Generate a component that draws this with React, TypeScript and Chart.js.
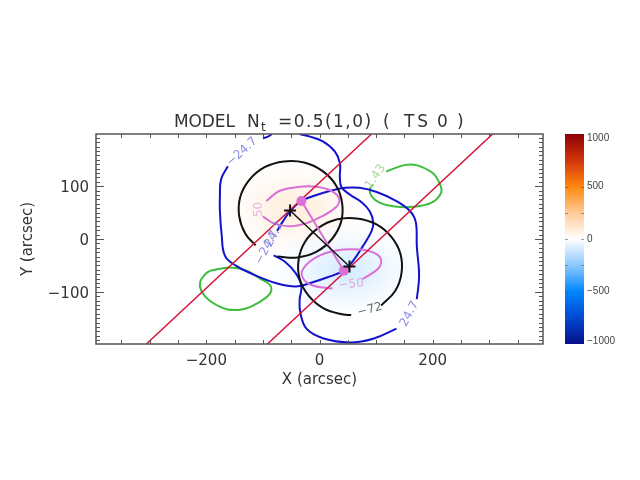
import React, { useEffect, useRef } from "react";
import { Chart, registerables } from "chart.js";

Chart.register(...registerables);

// ---------------- data (arcsec) ----------------
const xLimits = [-395, 395];
const yLimits = [-199, 199];
const xTickValues = [-200, 0, 200];
const yTickValues = [-100, 0, 100];
const xMinorStep = 50;
const yMinorStep = 100 / 12;

const colorbarTickValues = [1000, 500, 0, -500, -1000];
const colorbarLimits = [-1000, 1000];
const colormapLevels = [-1000, -750, -500, -250, 0, 250, 500, 750, 1000];

const crossX = [-52, 53];
const crossY = [54, -52];
const dotX = [-32, 43];
const dotY = [72, -60];

const blobX = [-45, 48];
const blobY = [58, -60];
const blobPeak = [80, -85];
const blobRadiusX = [135, 135];
const blobRadiusY = [90, 90];

const redLineA = [[-306, -199], [92, 199]];
const redLineB = [[-92, -199], [306, 199]];

const blackCircle1 = [
  [-75, -33], [-39, -35], [-5, -24], [22, 0], [38, 32], [40, 68], [29, 102], [5, 129],
  [-27, 145], [-63, 147], [-97, 136], [-124, 112], [-140, 80], [-142, 44], [-131, 10], [-113, -12],
];
const blackCircle2 = [
  [109, -126], [134, -98], [145, -64], [143, -28], [127, 4], [100, 28], [66, 39], [30, 37],
  [-2, 21], [-26, -6], [-37, -40], [-35, -76], [-19, -108], [8, -132], [42, -143], [56, -144],
];

const pinkEllipse1 = [
  [-94, 72], [-71, 91], [-35, 99], [0, 98], [26, 88], [35, 74], [29, 60], [6, 44],
  [-23, 30], [-53, 24], [-82, 30], [-100, 43],
];
const pinkEllipse2 = [
  [76, -76], [103, -57], [109, -41], [100, -28], [71, -20], [29, -22], [-6, -35],
  [-29, -57], [-29, -75], [-12, -88], [23, -94],
];

const greenLoop1 = [
  [118, 128], [150, 140], [171, 140], [200, 125], [212, 106], [215, 88], [198, 69],
  [165, 61], [130, 62], [106, 69], [92, 81], [89, 94], [95, 103],
];
const greenLoop2 = [
  [-194, -60], [-158, -54], [-129, -60], [-105, -75], [-87, -88], [-88, -104], [-112, -123],
  [-135, -133], [-164, -133], [-194, -117], [-209, -98], [-211, -82], [-203, -68], [-194, -60],
];

const blueOuterA = [
  [-75, 15], [-65, 33], [-51, 54], [-32, 72], [-12, 81], [18, 91], [45, 97], [71, 97],
  [101, 89], [136, 72], [159, 54], [170, 33], [172, -14], [176, -70], [172, -114],
];
const blueOuterB = [
  [136, -170], [95, -189], [54, -196], [6, -188], [-23, -170], [-34, -139], [-35, -114],
  [-32, -89], [-42, -65], [-60, -44], [-81, -31],
];
const blueInnerA = [[-84, 199], [-91, 194], [-100, 191]];
const blueInnerB = [
  [-162, 138], [-174, 113], [-176, 81], [-176, 52], [-173, 9], [-167, -32], [-147, -51],
  [-111, -70], [-76, -84], [-41, -90], [-12, -82], [13, -73], [43, -60], [59, -42],
  [77, -13], [92, 15], [95, 31], [89, 52], [75, 69], [54, 84], [39, 98], [36, 116],
  [36, 144], [27, 166], [6, 185], [-17, 194], [-35, 199],
];

const labelText = ["\u221224.7", "24.7", "\u221224.7", "24.7", "50", "\u221250", "\u221272", "1.43"];
const labelX = [-137, 159, -93, -80, -107, 56, 89, 99];
const labelY = [165, -142, -16, 8, 56, -86, -134, 118];

// ---------------- styles ----------------
const FONT = '"DejaVu Sans", "Liberation Sans", sans-serif';
const TEXT_COLOR = "#333333";
const FRAME_COLOR = "#555555";
const RED = "rgb(214,20,58)";
const BLUE = "rgb(18,18,205)";
const GREEN = "rgb(60,190,60)";
const PINK = "rgb(218,112,214)";
const BLACK = "#111111";
const labelAngle = [-42, -62, -62, -62, -90, -5, -15, -55];
const labelColor = [
  "rgb(140,140,230)", "rgb(140,140,230)", "rgb(140,140,230)", "rgb(140,140,230)",
  "rgb(238,176,228)", "rgb(222,170,222)", "rgb(110,110,110)", "rgb(175,215,155)",
];
const CMAP_RGB = [
  [8, 16, 135], [0, 72, 210], [0, 135, 255], [140, 200, 255], [255, 255, 255],
  [255, 202, 150], [255, 135, 15], [212, 52, 10], [140, 0, 6],
];

function cmap(v: number): number[] {
  const lv = colormapLevels;
  if (v <= lv[0]) return CMAP_RGB[0];
  if (v >= lv[lv.length - 1]) return CMAP_RGB[lv.length - 1];
  for (let i = 0; i < lv.length - 1; i++) {
    if (v >= lv[i] && v <= lv[i + 1]) {
      const t = (v - lv[i]) / (lv[i + 1] - lv[i]);
      const a = CMAP_RGB[i], b = CMAP_RGB[i + 1];
      return [0, 1, 2].map((k) => Math.round(a[k] + (b[k] - a[k]) * t));
    }
  }
  return [255, 255, 255];
}

const pts = (arr: number[][]) => arr.map(([x, y]) => ({ x, y }));
const fmt = (v: number) => (v < 0 ? "\u2212" + Math.abs(v) : String(v));

const heatPlugin = {
  id: "heat",
  beforeDatasetsDraw(chart: any) {
    const { ctx, chartArea: a, scales } = chart;
    const xs = scales.x, ys = scales.y;
    ctx.save();
    ctx.beginPath();
    ctx.rect(a.left, a.top, a.right - a.left, a.bottom - a.top);
    ctx.clip();
    for (let i = 0; i < blobX.length; i++) {
      const cx = xs.getPixelForValue(blobX[i]);
      const cy = ys.getPixelForValue(blobY[i]);
      const rx = Math.abs(xs.getPixelForValue(blobX[i] + blobRadiusX[i]) - cx);
      const ry = Math.abs(ys.getPixelForValue(blobY[i] + blobRadiusY[i]) - cy);
      const c = cmap(blobPeak[i] * 2);
      ctx.save();
      ctx.translate(cx, cy);
      ctx.scale(rx, ry);
      const g = ctx.createRadialGradient(0, 0, 0, 0, 0, 1);
      for (let s = 0; s <= 10; s++) {
        const t = s / 10;
        const al = s === 10 ? 0 : 0.5 * Math.exp(-3 * t * t);
        g.addColorStop(t, `rgba(${c[0]},${c[1]},${c[2]},${al.toFixed(3)})`);
      }
      ctx.fillStyle = g;
      ctx.beginPath();
      ctx.arc(0, 0, 1, 0, Math.PI * 2);
      ctx.fill();
      ctx.restore();
    }
    ctx.restore();
  },
};

const overlayPlugin = {
  id: "overlay",
  afterDatasetsDraw(chart: any) {
    const { ctx, chartArea: a, scales } = chart;
    const xs = scales.x, ys = scales.y;
    // contour labels
    ctx.save();
    ctx.font = `12px ${FONT}`;
    ctx.textAlign = "center";
    ctx.textBaseline = "middle";
    for (let i = 0; i < labelText.length; i++) {
      ctx.save();
      ctx.translate(xs.getPixelForValue(labelX[i]), ys.getPixelForValue(labelY[i]));
      ctx.rotate((labelAngle[i] * Math.PI) / 180);
      ctx.fillStyle = labelColor[i];
      ctx.fillText(labelText[i], 0, 0);
      ctx.restore();
    }
    ctx.restore();

    // frame and inward ticks
    ctx.save();
    ctx.strokeStyle = FRAME_COLOR;
    ctx.lineWidth = 1.5;
    ctx.strokeRect(a.left, a.top, a.right - a.left, a.bottom - a.top);
    ctx.lineWidth = 1;
    ctx.beginPath();
    for (let k = Math.ceil(xLimits[0] / xMinorStep); k * xMinorStep <= xLimits[1]; k++) {
      const px = Math.round(xs.getPixelForValue(k * xMinorStep)) + 0.5;
      const len = 4;
      ctx.moveTo(px, a.bottom);
      ctx.lineTo(px, a.bottom - len);
      ctx.moveTo(px, a.top);
      ctx.lineTo(px, a.top + len);
    }
    for (let k = Math.ceil(yLimits[0] / yMinorStep); k * yMinorStep <= yLimits[1]; k++) {
      const py = Math.round(ys.getPixelForValue(k * yMinorStep)) + 0.5;
      const len = k % 12 === 0 ? 8 : 4;
      ctx.moveTo(a.left, py);
      ctx.lineTo(a.left + len, py);
      ctx.moveTo(a.right, py);
      ctx.lineTo(a.right - len, py);
    }
    ctx.stroke();
    ctx.restore();
  },
  afterDraw(chart: any) {
    const { ctx, chartArea: a } = chart;
    // title
    ctx.save();
    ctx.fillStyle = TEXT_COLOR;
    ctx.textBaseline = "alphabetic";
    ctx.textAlign = "left";
    const fit = (text: string, x0: number, x1: number, y: number) => {
      (ctx as any).letterSpacing = "0px";
      const w = ctx.measureText(text).width;
      const n = text.length;
      const sp = n > 1 ? (x1 - x0 - w) / (n - 1) : 0;
      (ctx as any).letterSpacing = `${sp.toFixed(2)}px`;
      ctx.fillText(text, x0, y);
      (ctx as any).letterSpacing = "0px";
    };
    ctx.font = `17px ${FONT}`;
    fit("MODEL", 174, 235, 127);
    fit("N", 247, 260, 127);
    fit("=0.5(1,0)", 278, 371, 127);
    fit("(", 383, 389, 127);
    fit("TS", 404, 428, 127);
    fit("0", 437, 448, 127);
    fit(")", 457, 463, 127);
    ctx.font = `12px ${FONT}`;
    ctx.fillText("t", 261, 131);
    ctx.restore();

    // colorbar
    const cbL = 565, cbR = 584;
    const top = a.top, bot = a.bottom;
    const toPx = (v: number) =>
      bot - ((v - colorbarLimits[0]) / (colorbarLimits[1] - colorbarLimits[0])) * (bot - top);
    ctx.save();
    const g = ctx.createLinearGradient(0, bot, 0, top);
    colormapLevels.forEach((v) => {
      const c = cmap(v);
      g.addColorStop((v - colorbarLimits[0]) / (colorbarLimits[1] - colorbarLimits[0]), `rgb(${c[0]},${c[1]},${c[2]})`);
    });
    ctx.fillStyle = g;
    ctx.fillRect(cbL, top, cbR - cbL, bot - top);
    ctx.strokeStyle = "rgba(90,90,90,0.6)";
    ctx.lineWidth = 1;
    ctx.beginPath();
    for (let v = colorbarLimits[0] + 250; v < colorbarLimits[1]; v += 250) {
      const py = Math.round(toPx(v)) + 0.5;
      ctx.moveTo(cbR, py);
      ctx.lineTo(cbR - 3, py);
      ctx.moveTo(cbL, py);
      ctx.lineTo(cbL + 3, py);
    }
    ctx.stroke();
    ctx.fillStyle = "#444";
    ctx.font = `10px "Liberation Sans", sans-serif`;
    ctx.textAlign = "left";
    ctx.textBaseline = "middle";
    colorbarTickValues.forEach((v) => {
      const py = Math.min(Math.max(toPx(v), top + 4), bot - 3);
      ctx.fillText(fmt(v), cbR + 3, py);
    });
    ctx.restore();
  },
};

const line = (data: number[][], color: string, width: number, tension: number, order: number) => ({
  data: pts(data),
  showLine: true,
  borderColor: color,
  borderWidth: width,
  pointRadius: 0,
  tension,
  order,
  fill: false,
});

export default function App() {
  const ref = useRef<HTMLCanvasElement | null>(null);
  useEffect(() => {
    if (!ref.current) return;
    const tickFont = { family: FONT, size: 15 };
    const chart = new Chart(ref.current, {
      type: "scatter",
      data: {
        datasets: [
          {
            data: crossX.map((x, i) => ({ x, y: crossY[i] })),
            pointStyle: "cross",
            pointRadius: 6,
            pointBorderWidth: 2,
            borderColor: BLACK,
            backgroundColor: BLACK,
            showLine: false,
            order: 0,
          } as any,
          {
            data: dotX.map((x, i) => ({ x, y: dotY[i] })),
            pointStyle: "circle",
            pointRadius: 5,
            pointBorderWidth: 0,
            borderColor: PINK,
            backgroundColor: PINK,
            showLine: false,
            order: 1,
          } as any,
          line(crossX.map((x, i) => [x, crossY[i]]), BLACK, 1.5, 0, 2),
          line(dotX.map((x, i) => [x, dotY[i]]), PINK, 2, 0, 2),
          line(redLineA, RED, 1.5, 0, 3),
          line(redLineB, RED, 1.5, 0, 3),
          line(blackCircle1, BLACK, 2, 0.4, 4),
          line(blackCircle2, BLACK, 2, 0.4, 4),
          line(pinkEllipse1, PINK, 2, 0.4, 5),
          line(pinkEllipse2, PINK, 2, 0.4, 5),
          line(blueOuterA, BLUE, 2, 0.4, 6),
          line(blueOuterB, BLUE, 2, 0.4, 6),
          line(blueInnerA, BLUE, 2, 0.4, 6),
          line(blueInnerB, BLUE, 2, 0.4, 6),
          line(greenLoop1, GREEN, 2, 0.4, 7),
          line(greenLoop2, GREEN, 2, 0.4, 7),
        ],
      },
      options: {
        responsive: false,
        animation: false,
        events: [],
        layout: { padding: { left: 0, right: 97, top: 134, bottom: 0 } },
        plugins: { legend: { display: false }, tooltip: { enabled: false }, title: { display: false } },
        scales: {
          x: {
            type: "linear",
            min: xLimits[0],
            max: xLimits[1],
            position: "bottom",
            afterBuildTicks: (s: any) => {
              s.ticks = xTickValues.map((value) => ({ value }));
            },
            afterFit: (s: any) => {
              s.height = 136;
            },
            ticks: {
              callback: (v: any) => fmt(Number(v)),
              font: tickFont,
              color: TEXT_COLOR,
              padding: 8,
              maxRotation: 0,
              autoSkip: false,
            },
            grid: { display: false, drawTicks: false },
            border: { display: false },
            title: {
              display: true,
              text: "X (arcsec)",
              font: tickFont,
              color: TEXT_COLOR,
              padding: { top: 0, bottom: 91 },
            },
          },
          y: {
            type: "linear",
            min: yLimits[0],
            max: yLimits[1],
            position: "left",
            afterBuildTicks: (s: any) => {
              s.ticks = yTickValues.map((value) => ({ value }));
            },
            afterFit: (s: any) => {
              s.width = 96;
            },
            ticks: {
              callback: (v: any) => fmt(Number(v)),
              font: tickFont,
              color: TEXT_COLOR,
              padding: 7,
              labelOffset: 2,
              autoSkip: false,
            },
            grid: { display: false, drawTicks: false },
            border: { display: false },
            title: {
              display: true,
              text: "Y (arcsec)",
              font: tickFont,
              color: TEXT_COLOR,
              padding: { top: 19, bottom: 0 },
            },
          },
        },
      } as any,
      plugins: [heatPlugin, overlayPlugin],
    });
    return () => chart.destroy();
  }, []);
  return (
    <div style={{ position: "fixed", left: 0, top: 0, width: 640, height: 480, background: "#fff" }}>
      <canvas ref={ref} width={640} height={480} style={{ display: "block" }} />
    </div>
  );
}
